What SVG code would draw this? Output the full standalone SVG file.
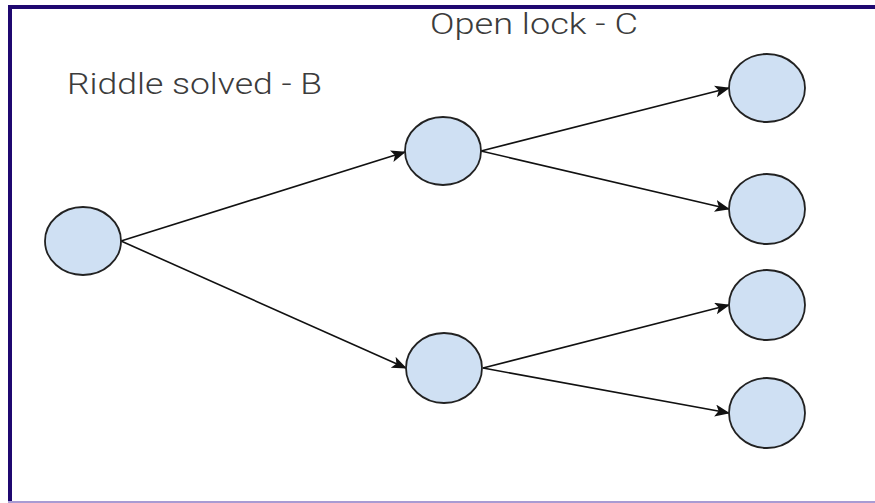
<svg xmlns="http://www.w3.org/2000/svg" width="875" height="503" viewBox="0 0 875 503">
<style>
.n{fill:#cfe0f3;stroke:#222;stroke-width:1.8}
.e{stroke:#111;stroke-width:1.6;fill:none;marker-end:url(#ah)}
.t{font-family:Roboto,"Liberation Sans",sans-serif;font-size:30px;font-weight:300;fill:#3c3c3c}
</style>
<defs>
<marker id="ah" markerWidth="16" markerHeight="14" refX="14" refY="6" orient="auto" markerUnits="userSpaceOnUse">
<path d="M0,0 L15,6 L0,12 L3.5,6 Z" fill="#111"/>
</marker>
</defs>
<rect x="0" y="0" width="875" height="503" fill="#fff"/>
<rect x="8" y="5" width="867" height="4" fill="#1f0870"/>
<rect x="8" y="5" width="4" height="498" fill="#1f0870"/>
<rect x="8" y="501" width="867" height="2" fill="#a99bd3"/>
<g id="connectors">
<line class="e" x1="121" y1="241" x2="405" y2="152"/>
<line class="e" x1="121" y1="241" x2="406" y2="368"/>
<line class="e" x1="481" y1="151" x2="729" y2="88"/>
<line class="e" x1="481" y1="151" x2="729" y2="209"/>
<line class="e" x1="483" y1="368" x2="729" y2="305"/>
<line class="e" x1="483" y1="368" x2="729" y2="413"/>
</g>
<g id="A"><ellipse class="n" cx="83" cy="241" rx="38" ry="34"/></g>
<g id="B1"><ellipse class="n" cx="443" cy="151" rx="38" ry="34"/></g>
<g id="B2"><ellipse class="n" cx="444" cy="368" rx="38" ry="35"/></g>
<g id="C1"><ellipse class="n" cx="767" cy="88" rx="38" ry="34"/></g>
<g id="C2"><ellipse class="n" cx="767" cy="209" rx="38" ry="35"/></g>
<g id="C3"><ellipse class="n" cx="767" cy="305" rx="38" ry="35"/></g>
<g id="C4"><ellipse class="n" cx="767" cy="413" rx="38" ry="35"/></g>
<g id="labels">
<text class="t" x="67" y="94" textLength="255" lengthAdjust="spacingAndGlyphs">Riddle solved - B</text>
<text class="t" x="430" y="34" textLength="208" lengthAdjust="spacingAndGlyphs">Open lock - C</text>
</g>
</svg>
